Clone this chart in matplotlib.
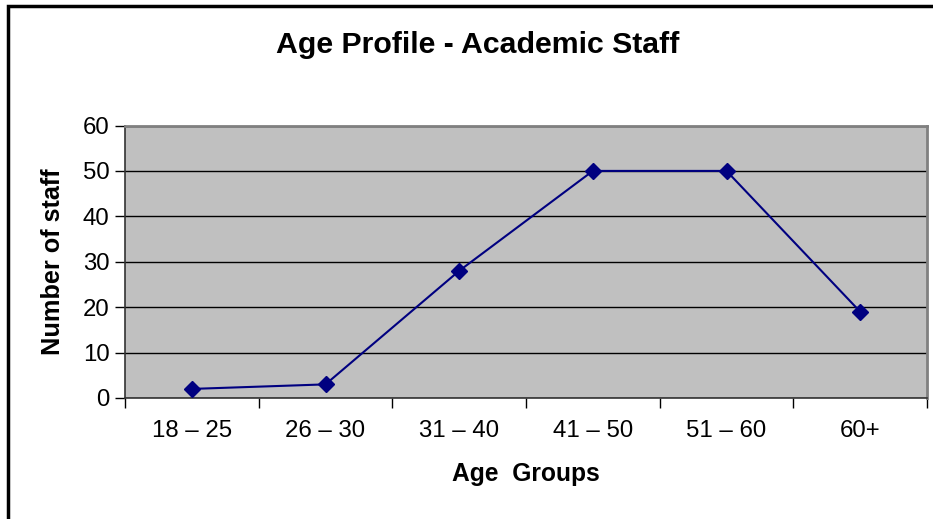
import matplotlib.pyplot as plt
from matplotlib.patches import Rectangle

# дані з графіка
age_groups = ["18 – 25", "26 – 30", "31 – 40", "41 – 50", "51 – 60", "60+"]
staff_count = [2, 3, 28, 50, 50, 19]
y_ticks = [0, 10, 20, 30, 40, 50, 60]

plt.rcParams['font.family'] = ['Liberation Sans', 'DejaVu Sans']

fig = plt.figure(figsize=(9.33, 5.19), dpi=100)
ax = fig.add_axes([125 / 933, 1 - 398 / 519, 802 / 933, 272.5 / 519])

# рамка навколо діаграми
fig.patches.append(Rectangle((8 / 933, -0.1), 1.0, 0.1 + 1 - 6 / 519,
                             transform=fig.transFigure, fill=False,
                             edgecolor='black', linewidth=2.5))

x = list(range(len(age_groups)))
ax.set_facecolor('#C0C0C0')
ax.plot(x, staff_count, color='#000080', linewidth=1.5, marker='D',
        markersize=8, zorder=3, clip_on=False)

ax.set_xlim(-0.5, len(age_groups) - 0.5)
ax.set_ylim(0, 60)
ax.set_yticks(y_ticks)
ax.yaxis.grid(True, color='black', linewidth=1)
ax.set_axisbelow(True)

ax.set_xticks(x)
ax.set_xticklabels(age_groups, fontsize=17.3)
ax.set_xticks([i - 0.5 for i in range(len(age_groups) + 1)], minor=True)
ax.tick_params(axis='x', which='major', length=0, pad=16)
ax.tick_params(axis='x', which='minor', length=7, width=1, color='black')
ax.tick_params(axis='y', length=7, width=1, labelsize=17.3, pad=4)

for side in ['left', 'bottom']:
    ax.spines[side].set_color('#333333')
    ax.spines[side].set_linewidth(1.2)
for side in ['top', 'right']:
    ax.spines[side].set_color('#808080')
    ax.spines[side].set_linewidth(2)

ax.set_xlabel("Age  Groups", fontsize=17.7, fontweight='bold', labelpad=14)
ax.set_ylabel("Number of staff", fontsize=18.2, fontweight='bold', labelpad=13)
fig.text(478 / 933, 1 - 45 / 519, "Age Profile - Academic Staff",
         fontsize=21.8, fontweight='bold', ha='center', va='center')

fig.savefig("out.png", dpi=100)
